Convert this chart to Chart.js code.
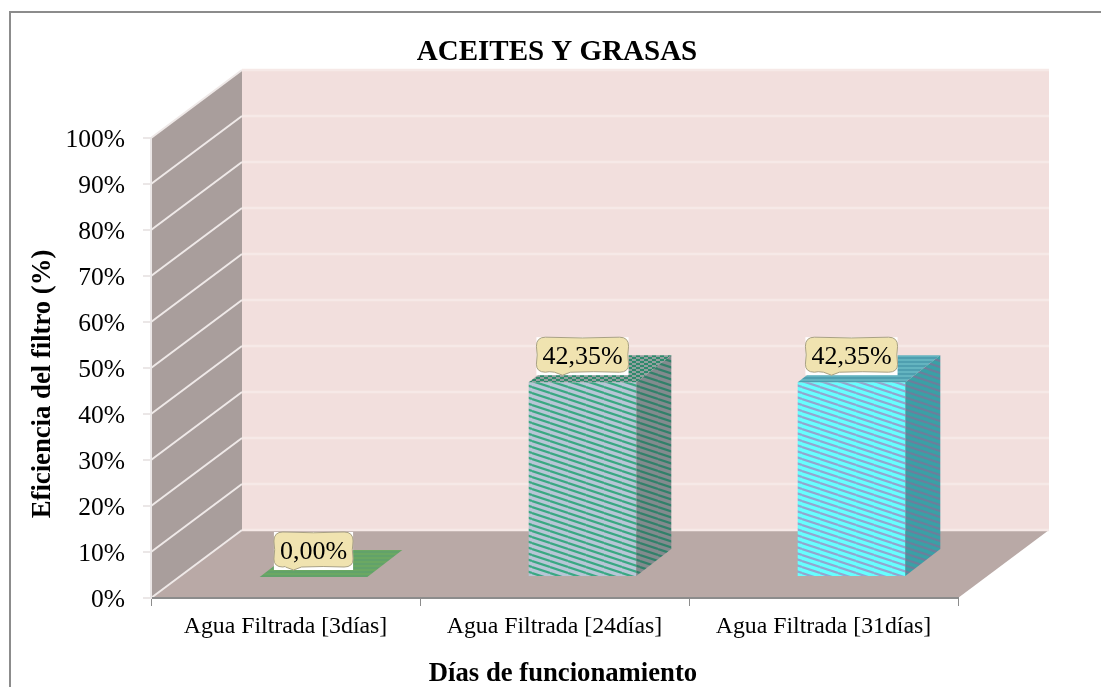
<!DOCTYPE html>
<html>
<head>
<meta charset="utf-8">
<title>Aceites y grasas</title>
<script src="https://cdn.jsdelivr.net/npm/chart.js@4"></script>
<style>
    body { margin: 0; background: #fff; }
    canvas { display: block; }
</style>
</head>
<body>
<canvas id="grafico" width="1101" height="687"></canvas>
<script>
const categorias = ["Agua Filtrada [3días]", "Agua Filtrada [24días]", "Agua Filtrada [31días]"];
const eficiencia = [0, 42.35, 42.35];
const ticksY = [0, 10, 20, 30, 40, 50, 60, 70, 80, 90, 100];

const titulo = "ACEITES Y GRASAS";
const tituloY = "Eficiencia del filtro (%)";
const tituloX = "Días de funcionamiento";

const FUENTE = "'Liberation Serif', 'Times New Roman', serif";

// profundidad del 3D: fondo del grafico y separacion de las barras
const FONDO = { x: 91, y: -68 };
const DESPLAZA = { x: 28, y: -21 };
const CARA = { x: 35, y: -27 };

// tramas de las barras: [fondo, raya]
const coloresFrente = [["#6ba863", "#7ab070"], ["#b7c6d6", "#3aa883"], ["#66ffff", "#93a6cf"]];
const coloresLado = [["#4f7d4a", "#5a8a55"], ["#828b8e", "#32806a"], ["#3aa0a6", "#6b7f9c"]];
const coloresArriba = [["#6ba863", "#62a26a"], ["#93a09f", "#2f8a6c"], ["#4f9fb0", "#64b4c0"]];

function trama(colores) {
    const c = document.createElement("canvas");
    c.width = 18;
    c.height = 6;
    const g = c.getContext("2d");
    g.fillStyle = colores[0];
    g.fillRect(0, 0, 18, 6);
    g.strokeStyle = colores[1];
    g.lineWidth = 2.2;
    for (let i = -6; i <= 6; i += 6) {
        g.beginPath();
        g.moveTo(0, i);
        g.lineTo(18, i + 6);
        g.stroke();
    }
    return g.createPattern(c, "repeat");
}

// trama de las tapas: rayas casi planas, partidas en la barra verde
function tramaTapa(colores, partida) {
    const c = document.createElement("canvas");
    c.width = 8;
    c.height = 4;
    const g = c.getContext("2d");
    g.fillStyle = colores[0];
    g.fillRect(0, 0, 8, 4);
    g.fillStyle = colores[1];
    g.fillRect(0, 0, partida ? 4 : 8, 2);
    if (partida) g.fillRect(4, 2, 4, 2);
    return g.createPattern(c, "repeat");
}

function poligono(ctx, puntos, relleno) {
    ctx.beginPath();
    puntos.forEach((p, i) => (i ? ctx.lineTo(p[0], p[1]) : ctx.moveTo(p[0], p[1])));
    ctx.closePath();
    ctx.fillStyle = relleno;
    ctx.fill();
}

// paredes, suelo y marco, antes de que se pinten los ejes
const paredes = {
    id: "paredes",
    beforeDraw(chart) {
        const { ctx, chartArea: a, scales } = chart;
        const dx = FONDO.x, dy = FONDO.y;
        ctx.save();
        ctx.fillStyle = "#8c8c8c";
        ctx.fillRect(9, 11, 1092, 2);
        ctx.fillRect(9, 11, 2, 676);

        poligono(ctx, [[a.left + dx, a.top + dy], [a.right + dx, a.top + dy], [a.right + dx, a.bottom + dy], [a.left + dx, a.bottom + dy]], "#f2dfdd");
        poligono(ctx, [[a.left, a.top], [a.left + dx, a.top + dy], [a.left + dx, a.bottom + dy], [a.left, a.bottom]], "#a99e9c");
        poligono(ctx, [[a.left, a.bottom], [a.left + dx, a.bottom + dy], [a.right + dx, a.bottom + dy], [a.right, a.bottom]], "#b9a9a6");

        ticksY.forEach((v) => {
            const y = scales.y.getPixelForValue(v);
            ctx.lineWidth = 2;
            ctx.strokeStyle = "#efe9e8";
            ctx.beginPath();
            ctx.moveTo(a.left, y);
            ctx.lineTo(a.left + dx, y + dy);
            ctx.stroke();
            ctx.lineWidth = 2.5;
            ctx.strokeStyle = "#f6e9e7";
            ctx.beginPath();
            ctx.moveTo(a.left + dx, y + dy);
            ctx.lineTo(a.right + dx, y + dy);
            ctx.stroke();
        });
        ctx.restore();
    },
};

function globo(ctx, cx, arriba, ancho, alto) {
    const x0 = cx - ancho / 2, x1 = cx + ancho / 2, y1 = arriba + alto;
    const pico = cx - 20;
    ctx.beginPath();
    ctx.moveTo(x0 + 9, arriba);
    ctx.quadraticCurveTo(cx, arriba + 1.5, x1 - 9, arriba);
    ctx.quadraticCurveTo(x1, arriba, x1, arriba + 9);
    ctx.quadraticCurveTo(x1 - 1.5, arriba + alto / 2, x1, y1 - 8);
    ctx.quadraticCurveTo(x1, y1, x1 - 9, y1);
    ctx.quadraticCurveTo(cx + 10, y1 - 1, pico + 8, y1);
    ctx.lineTo(pico, y1 + 3);
    ctx.lineTo(pico - 8, y1);
    ctx.quadraticCurveTo(x0 + 12, y1 - 1, x0 + 9, y1);
    ctx.quadraticCurveTo(x0, y1, x0, y1 - 8);
    ctx.quadraticCurveTo(x0 + 1.5, arriba + alto / 2, x0, arriba + 9);
    ctx.quadraticCurveTo(x0, arriba, x0 + 9, arriba);
    ctx.closePath();
}

// las barras van corridas hacia el fondo; aqui se anaden lado y tapa
const barras3d = {
    id: "barras3d",
    beforeDatasetDraw(chart) {
        chart.ctx.save();
        chart.ctx.translate(DESPLAZA.x, DESPLAZA.y);
    },
    afterDatasetDraw(chart, args) {
        const { ctx } = chart;
        const dx = CARA.x, dy = CARA.y;
        chart.getDatasetMeta(args.index).data.forEach((b, i) => {
            const izq = b.x - b.width / 2, der = b.x + b.width / 2;
            poligono(ctx, [[izq, b.y], [der, b.y], [der + dx, b.y + dy], [izq + dx, b.y + dy]], tramaTapa(coloresArriba[i], i === 1));
            if (b.base - b.y > 1) {
                poligono(ctx, [[der, b.y], [der + dx, b.y + dy], [der + dx, b.base + dy], [der, b.base]], trama(coloresLado[i]));
            }
        });
        ctx.restore();
    },
    afterDatasetsDraw(chart) {
        const { ctx } = chart;
        ctx.save();
        ctx.font = "26px " + FUENTE;
        ctx.textAlign = "center";
        ctx.textBaseline = "middle";
        chart.getDatasetMeta(0).data.forEach((b, i) => {
            const texto = eficiencia[i].toFixed(2).replace(".", ",") + "%";
            const ancho = ctx.measureText(texto).width + 12;
            const cx = b.x + DESPLAZA.x;
            const arriba = b.y + DESPLAZA.y - 45;
            ctx.fillStyle = "#fff";
            ctx.fillRect(cx - ancho / 2, arriba, ancho, 38);
            globo(ctx, cx, arriba, ancho, 35);
            ctx.fillStyle = "#f0e3b0";
            ctx.fill();
            ctx.strokeStyle = "#a9a184";
            ctx.lineWidth = 1;
            ctx.stroke();
            ctx.fillStyle = "#000";
            ctx.fillText(texto, cx, arriba + 20);
        });
        ctx.restore();
    },
    afterDraw(chart) {
        const { ctx } = chart;
        ctx.save();
        ctx.font = "bold 26.7px " + FUENTE;
        ctx.fillStyle = "#000";
        ctx.textAlign = "center";
        ctx.textBaseline = "middle";
        ctx.fillText(tituloX, 563, 674);
        ctx.translate(43, 384);
        ctx.rotate(-Math.PI / 2);
        ctx.fillText(tituloY, 0, 0);
        ctx.restore();
    },
};

new Chart(document.getElementById("grafico"), {
    type: "bar",
    data: {
        labels: categorias,
        datasets: [
            {
                label: "Eficiencia",
                data: eficiencia,
                backgroundColor: coloresFrente.map(trama),
                barPercentage: 0.4,
                categoryPercentage: 1,
            },
        ],
    },
    plugins: [paredes, barras3d],
    options: {
        responsive: false,
        animation: false,
        layout: { padding: { left: 13 } },
        plugins: {
            legend: { display: false },
            tooltip: { enabled: false },
            title: {
                display: true,
                text: titulo,
                color: "#000",
                font: { family: FUENTE, size: 29, weight: "bold" },
                padding: { top: 35, bottom: 68.2 },
            },
        },
        scales: {
            x: {
                grid: { drawOnChartArea: false, drawTicks: true, tickLength: 8, color: "#8c8c8c", offset: true },
                border: { color: "#8c8c8c", width: 2 },
                ticks: { color: "#000", font: { family: FUENTE, size: 23.8 }, padding: 6, maxRotation: 0 },
                afterFit: (s) => { s.height = 89; },
            },
            y: {
                min: 0,
                max: 100,
                afterBuildTicks: (s) => { s.ticks = ticksY.map((value) => ({ value })); },
                grid: { drawOnChartArea: false, drawTicks: true, tickLength: 8, color: "#ebe7e7", lineWidth: 2 },
                border: { color: "#ebe7e7", width: 2 },
                ticks: { color: "#000", font: { family: FUENTE, size: 25.5 }, padding: 18, labelOffset: 2, callback: (v) => v + "%" },
                afterFit: (s) => { s.width = 138; },
            },
            // eje vacio, solo reserva el margen derecho
            margen: {
                position: "right",
                grid: { display: false },
                border: { display: false },
                ticks: { display: false },
                afterFit: (s) => { s.width = 143; },
            },
        },
    },
});
</script>
</body>
</html>
